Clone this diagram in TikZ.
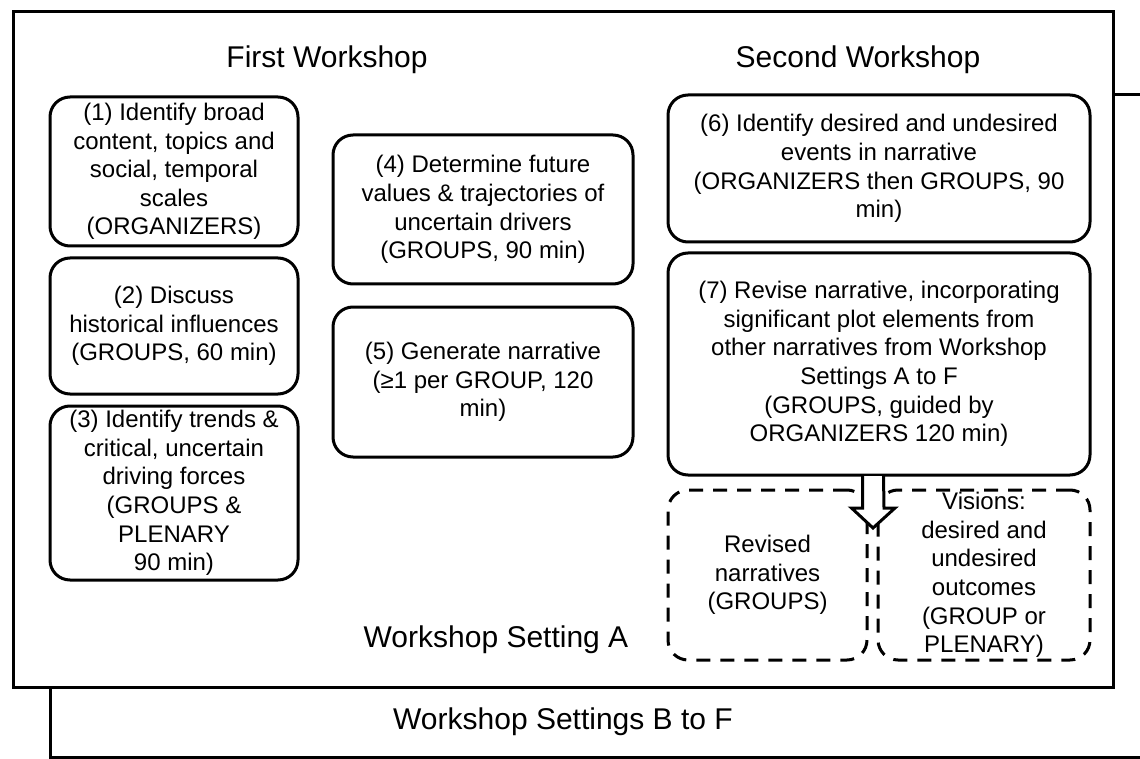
\documentclass[tikz,border=0pt]{standalone}
\usepackage{fontspec}
\setmainfont{Liberation Sans}

\newcommand\boxfont{\fontsize{12}{14.3}\selectfont}
\newcommand\titlefont{\fontsize{15}{17}\selectfont}

\tikzset{
    frame/.style={draw, line width=1.5pt},
    stepbox/.style={draw, line width=1.5pt, rounded corners=10pt, align=center, font=\boxfont, inner sep=1pt},
    dashbox/.style={stepbox, dash pattern=on 7pt off 5pt},
    heading/.style={font=\titlefont, inner sep=0pt}
}

\begin{document}
\begin{tikzpicture}[x=0.5pt, y=-0.5pt]
        \useasboundingbox (0,0) rectangle (1140,759);
        \clip (0,0) rectangle (1140,759);

        % Frames for the workshop settings
        \draw[frame] (50,95) rectangle (1170,757);
        \draw[frame, fill=white] (13,12) rectangle (1113,687);
        \node[heading] (setA) at (496,640) {Workshop Setting A};
        \node[heading] (setBF) at (563,722) {Workshop Settings B to F};

        % First workshop
        \node[heading] (first) at (327,60) {First Workshop};
        \node[stepbox, minimum width=124pt, minimum height=74.5pt] (s1) at (174,171.5)
            {(1) Identify broad\\content, topics and\\social, temporal\\scales\\(ORGANIZERS)};
        \node[stepbox, minimum width=124pt, minimum height=68pt] (s2) at (174,326)
            {(2) Discuss\\historical influences\\(GROUPS, 60 min)};
        \node[stepbox, minimum width=124pt, minimum height=87pt] (s3) at (174,493)
            {(3) Identify trends \&\\critical, uncertain\\driving forces\\(GROUPS \&\\PLENARY\\90 min)};
        \node[stepbox, minimum width=150pt, minimum height=74.5pt] (s4) at (483,209.5)
            {(4) Determine future\\values \& trajectories of\\uncertain drivers\\(GROUPS, 90 min)};
        \node[stepbox, minimum width=150pt, minimum height=75pt] (s5) at (483,382)
            {(5) Generate narrative\\(≥1 per GROUP, 120\\min)};

        % Second workshop
        \node[heading] (second) at (858,60) {Second Workshop};
        \node[stepbox, minimum width=211pt, minimum height=73.5pt] (s6) at (879,168.5)
            {(6) Identify desired and undesired\\events in narrative\\(ORGANIZERS then GROUPS, 90\\min)};
        \node[stepbox, minimum width=211pt, minimum height=111pt] (s7) at (879,364)
            {(7) Revise narrative, incorporating\\significant plot elements from\\other narratives from Workshop\\Settings A to F\\(GROUPS, guided by\\ORGANIZERS 120 min)};

        % Outcomes
        \node[dashbox, minimum width=99.5pt, minimum height=85pt] (revised) at (767.5,575)
            {Revised\\narratives\\(GROUPS)};
        \node[dashbox, minimum width=106pt, minimum height=85pt] (visions) at (984,575)
            {Visions:\\desired and\\undesired\\outcomes\\(GROUP or\\PLENARY)};

        % Block arrow from (7) to the outcomes
        \coordinate (top) at (873,476);
        \coordinate (tip) at (873,528);
        \draw[line width=1.5pt, fill=white, line join=miter]
            ([xshift=-5.25pt]top) -- ++(0,32) -- ++(-11,0) -- (tip)
            -- ([xshift=11pt, yshift=10pt]tip) -- ++(-11,0) -- ([xshift=5.25pt]top);
\end{tikzpicture}
\end{document}
